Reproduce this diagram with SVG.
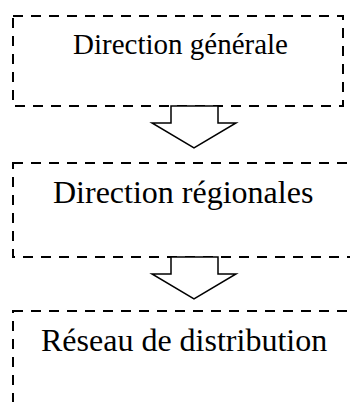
<svg xmlns="http://www.w3.org/2000/svg" width="350" height="402" viewBox="0 0 350 402">
  <style>
    .box { fill: none; stroke: #000; stroke-width: 2; stroke-dasharray: 10 8; }
    .lbl { font-family: "Liberation Serif", "Times New Roman", serif; fill: #000; }
    .arrow { fill: #fff; stroke: #000; stroke-width: 1.5; stroke-linejoin: miter; }
  </style>
  <rect width="350" height="402" fill="#fff"/>
  <g id="node-direction-generale">
    <rect class="box" x="13" y="16" width="330" height="90"/>
    <text class="lbl" x="73" y="54" font-size="29">Direction générale</text>
  </g>
  <g id="node-direction-regionales">
    <rect class="box" x="13" y="163" width="350" height="94"/>
    <text class="lbl" x="53" y="203" font-size="32">Direction régionales</text>
  </g>
  <g id="node-reseau-distribution">
    <rect class="box" x="13" y="311" width="350" height="110"/>
    <text class="lbl" x="41" y="351" font-size="32">Réseau de distribution</text>
  </g>
  <g id="connectors">
    <polygon class="arrow" points="171,106 218,106 218,123 236,123 194,148 152,123 171,123"/>
    <polygon class="arrow" points="171,257 218,257 218,274 236,274 194,299 152,274 171,274"/>
  </g>
</svg>
